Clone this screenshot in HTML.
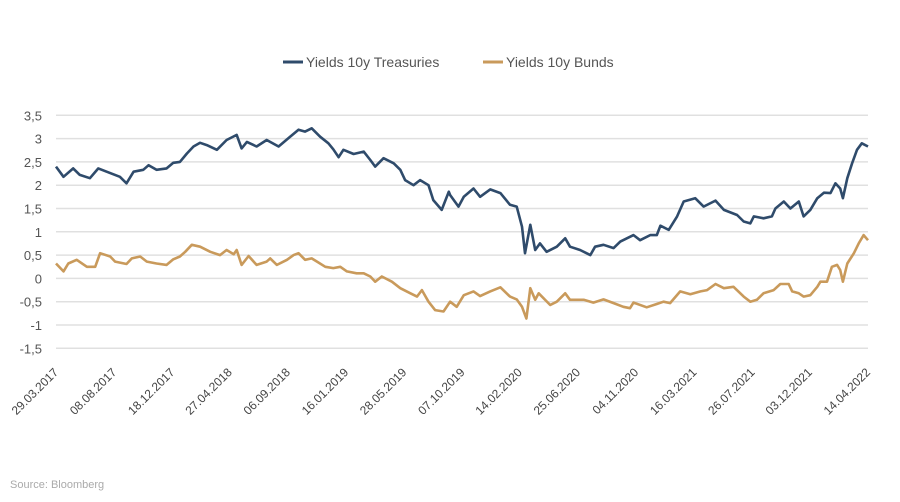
<!DOCTYPE html>
<html><head><meta charset="utf-8"><style>
body{margin:0;background:#fff;width:900px;height:497px;overflow:hidden;font-family:"Liberation Sans",sans-serif}
svg text{font-family:"Liberation Sans",sans-serif}
</style></head><body>
<svg id="chart" width="900" height="497">
<g id="grid"></g>
<g id="yaxis"></g>
<g id="xaxis"></g>
<g id="series"></g>
<g>
<g><line x1="283" y1="62" x2="303" y2="62" stroke="#2f4b6b" stroke-width="3"/><text x="306" y="67" font-size="14" fill="#555">Yields 10y Treasuries</text></g>
<g><line x1="483" y1="62" x2="503" y2="62" stroke="#c99a5b" stroke-width="3"/><text x="506" y="67" font-size="14" fill="#555">Yields 10y Bunds</text></g>
</g>
<text x="10" y="488" font-size="11" fill="#aaa">Source: Bloomberg</text>
</svg>
<script>
const yTicks=[3.5,3,2.5,2,1.5,1,0.5,0,-0.5,-1,-1.5];
const yTickLabels=["3,5","3","2,5","2","1,5","1","0,5","0","-0,5","-1","-1,5"];
const xTickLabels=["29.03.2017","08.08.2017","18.12.2017","27.04.2018","06.09.2018","16.01.2019","28.05.2019","07.10.2019","14.02.2020","25.06.2020","04.11.2020","16.03.2021","26.07.2021","03.12.2021","14.04.2022"];
const xTickDays=[0,132,264,394,526,658,790,922,1052,1184,1316,1448,1580,1710,1842];
const tDays=[0,17,39,54,77,96,123,145,160,176,198,210,228,251,266,281,297,312,327,342,365,387,410,421,433,455,478,505,531,550,565,580,599,618,629,641,652,675,698,713,724,743,766,781,792,811,826,845,856,875,891,894,913,925,947,962,985,1008,1030,1045,1057,1064,1076,1087,1098,1113,1136,1155,1166,1189,1212,1223,1242,1265,1280,1310,1325,1348,1363,1371,1390,1409,1424,1450,1469,1496,1515,1545,1560,1575,1583,1605,1624,1632,1651,1666,1685,1696,1711,1727,1742,1757,1768,1779,1785,1795,1806,1817,1828,1842];
const tVals=[2.4,2.18,2.36,2.22,2.15,2.36,2.26,2.18,2.04,2.29,2.33,2.43,2.33,2.36,2.48,2.5,2.68,2.83,2.91,2.86,2.76,2.97,3.08,2.79,2.93,2.83,2.97,2.83,3.04,3.19,3.15,3.22,3.04,2.9,2.77,2.6,2.76,2.67,2.72,2.54,2.4,2.58,2.47,2.33,2.11,2.0,2.11,2.0,1.68,1.47,1.86,1.79,1.54,1.75,1.93,1.75,1.91,1.83,1.58,1.54,1.11,0.54,1.15,0.61,0.75,0.57,0.68,0.86,0.68,0.61,0.5,0.68,0.72,0.65,0.79,0.93,0.82,0.93,0.93,1.13,1.04,1.33,1.65,1.72,1.54,1.67,1.47,1.36,1.22,1.18,1.33,1.29,1.33,1.5,1.65,1.5,1.65,1.33,1.47,1.72,1.84,1.83,2.04,1.93,1.72,2.15,2.47,2.76,2.9,2.83];
const bDays=[0,17,28,47,70,89,100,123,134,160,172,191,206,228,251,266,281,293,308,327,350,372,387,403,410,421,437,455,478,486,501,524,539,550,565,580,592,611,629,645,660,682,698,713,724,739,762,781,804,819,830,845,860,879,894,909,925,947,962,985,1008,1030,1045,1057,1067,1076,1087,1095,1121,1136,1155,1166,1197,1219,1242,1265,1287,1302,1310,1340,1363,1378,1393,1416,1439,1462,1477,1496,1515,1537,1560,1575,1590,1605,1628,1643,1662,1670,1685,1696,1711,1727,1734,1749,1760,1772,1779,1785,1795,1810,1821,1832,1842];
const bVals=[0.32,0.15,0.32,0.4,0.25,0.25,0.54,0.47,0.36,0.31,0.43,0.47,0.36,0.32,0.29,0.41,0.47,0.57,0.72,0.68,0.57,0.5,0.61,0.52,0.61,0.29,0.48,0.29,0.36,0.43,0.29,0.4,0.5,0.54,0.4,0.43,0.36,0.25,0.22,0.25,0.15,0.11,0.11,0.04,-0.07,0.04,-0.07,-0.21,-0.32,-0.39,-0.25,-0.5,-0.68,-0.71,-0.5,-0.61,-0.36,-0.28,-0.38,-0.28,-0.19,-0.39,-0.45,-0.61,-0.86,-0.21,-0.46,-0.32,-0.57,-0.5,-0.32,-0.46,-0.46,-0.52,-0.45,-0.53,-0.61,-0.64,-0.52,-0.62,-0.55,-0.5,-0.53,-0.28,-0.34,-0.28,-0.25,-0.12,-0.21,-0.18,-0.39,-0.5,-0.46,-0.32,-0.25,-0.12,-0.12,-0.28,-0.32,-0.39,-0.36,-0.18,-0.07,-0.07,0.25,0.29,0.18,-0.07,0.32,0.54,0.75,0.93,0.82,0.88];

const NS="http://www.w3.org/2000/svg";
const X0=56,X1=868,DMAX=1842;
const x=d=>X0+d/DMAX*(X1-X0);
const y=v=>115.3+(3.5-v)*46.6;
function mk(tag,attrs,parent){const e=document.createElementNS(NS,tag);for(const k in attrs)e.setAttribute(k,attrs[k]);parent.appendChild(e);return e;}
const grid=document.getElementById('grid'),ya=document.getElementById('yaxis'),xa=document.getElementById('xaxis'),se=document.getElementById('series');
yTicks.forEach((v,i)=>{
 const l=mk('line',{x1:X0,x2:X1,y1:y(v),y2:y(v),stroke:'#e0e0e0','stroke-width':1.5},grid);
 
 
 const t=mk('text',{x:42,y:y(v)+5,'text-anchor':'end','font-size':13,fill:'#555'},ya);
 t.textContent=yTickLabels[i];
 
 
});
xTickLabels.forEach((s,i)=>{
 const px=x(xTickDays[i])+3,py=373;
 const t=mk('text',{x:px,y:py,'text-anchor':'end','font-size':12,fill:'#444',transform:`rotate(-45 ${px} ${py})`},xa);
 t.textContent=s;
 
 
});
function path(days,vals){return days.map((d,i)=>(i?'L':'M')+x(d).toFixed(1)+','+y(vals[i]).toFixed(1)).join('');}
const pb=mk('path',{d:path(bDays,bVals),fill:'none',stroke:'#c99a5b','stroke-width':2.6,'stroke-linejoin':'round'},se);


const pt=mk('path',{d:path(tDays,tVals),fill:'none',stroke:'#2f4b6b','stroke-width':2.6,'stroke-linejoin':'round'},se);


</script>
</body></html>
